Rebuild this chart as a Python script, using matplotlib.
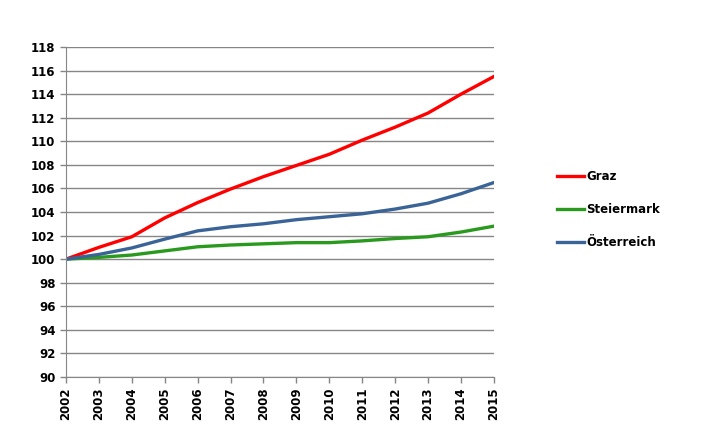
import matplotlib
matplotlib.use('Agg')
import matplotlib.pyplot as plt

# Daten (Index 2002 = 100)
jahre = [2002, 2003, 2004, 2005, 2006, 2007, 2008, 2009, 2010, 2011, 2012, 2013, 2014, 2015]
graz = [100.0, 101.0, 101.9, 103.5, 104.8, 105.95, 107.0, 107.95, 108.9, 110.1, 111.2, 112.4, 114.0, 115.5]
steiermark = [100.0, 100.15, 100.35, 100.7, 101.05, 101.2, 101.3, 101.4, 101.4, 101.55, 101.75, 101.9, 102.3, 102.8]
oesterreich = [100.0, 100.4, 100.95, 101.7, 102.4, 102.75, 103.0, 103.35, 103.6, 103.85, 104.25, 104.75, 105.55, 106.5]

plt.rcParams['font.family'] = ['DejaVu Sans']
plt.rcParams['font.weight'] = 'bold'
plt.rcParams['font.size'] = 8.5

fig = plt.figure(figsize=(7.14, 4.32), dpi=100)
ax = fig.add_axes([0.0924, 0.1273, 0.5994, 0.7639])

ax.plot(jahre, graz, color='#FF0000', lw=2.4, label='Graz')
ax.plot(jahre, steiermark, color='#2A9A1F', lw=2.4, label='Steiermark')
ax.plot(jahre, oesterreich, color='#3A6497', lw=2.4, label='Österreich')

ax.set_xlim(2002, 2015)
ax.set_ylim(90, 118)
ax.set_yticks(range(90, 119, 2))
ax.set_xticks(jahre)
ax.set_xticklabels([str(j) for j in jahre], rotation=90)

ax.grid(axis='y', color='#868686', lw=1)
ax.set_axisbelow(True)
for s in ['top', 'right']:
    ax.spines[s].set_visible(False)
for s in ['left', 'bottom']:
    ax.spines[s].set_color('#868686')
ax.tick_params(axis='both', colors='#868686', labelcolor='black', length=4, width=1)

ax.legend(loc='center left', bbox_to_anchor=(0.765, 0.515), bbox_transform=fig.transFigure,
          frameon=False, handlelength=2.3, handletextpad=0.2, labelspacing=1.7,
          fontsize=8.5)

fig.savefig('out.png', dpi=100)
